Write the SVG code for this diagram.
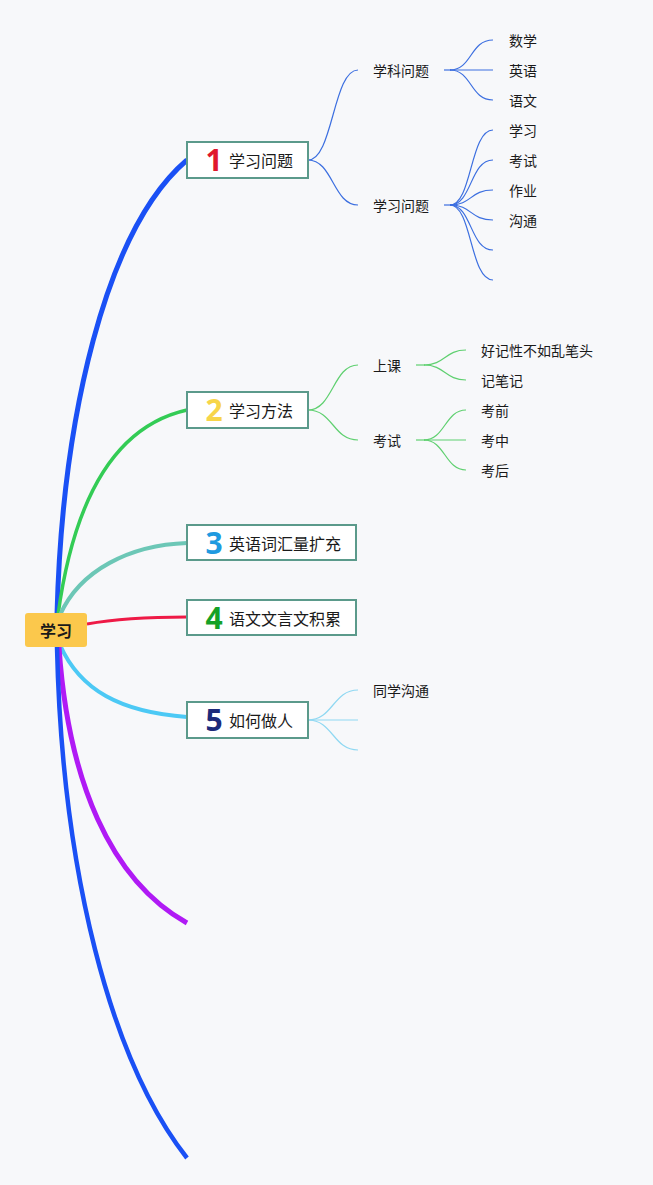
<svg xmlns="http://www.w3.org/2000/svg" width="653" height="1185" viewBox="0 0 653 1185">
<style>
.t{font-family:"Noto Sans CJK SC","Noto Sans",sans-serif;fill:#1a1a1a;dominant-baseline:central}
.main{font-size:16px}
.sub{font-size:14px}
.num{font-family:"Noto Sans","Liberation Sans",sans-serif;font-weight:700;font-size:30px;text-anchor:middle}
.box{fill:#ffffff;stroke:#5b9a8b;stroke-width:2}
.br{fill:none;stroke-linecap:butt}
.l1{fill:none;stroke:#3c6fe0;stroke-width:1.2}
.l2{fill:none;stroke:#5fd070;stroke-width:1.2}
.l5{fill:none;stroke:#8fd8f2;stroke-width:1.2}
</style>
<rect x="0" y="0" width="653" height="1185" fill="#f7f8fa"/>
<g id="connectors">
  <path class="br" d="M57,615 C62,420 105,230 187,160" stroke="#1a50f5" stroke-width="5"/>
  <path class="br" d="M58,615 C75,490 120,425 187,410" stroke="#33cc55" stroke-width="3.5"/>
  <path class="br" d="M60,615 C80,570 130,545 187,543" stroke="#6cc7b6" stroke-width="4"/>
  <path class="br" d="M87,624 C120,618 150,617 187,617" stroke="#ee1a46" stroke-width="3"/>
  <path class="br" d="M60,645 C80,690 120,712 187,717" stroke="#4cc9f5" stroke-width="4"/>
  <path class="br" d="M59,647 C68,780 110,880 187,923" stroke="#b01af5" stroke-width="5"/>
  <path class="br" d="M57,647 C62,870 110,1060 187,1158" stroke="#1a50f5" stroke-width="4.5"/>
  <path class="l1" d="M308,160 C333,160 333,70 358,70"/>
  <path class="l1" d="M308,160 C333,160 333,205 358,205"/>
  <path class="l1" d="M444,70 L451,70" stroke-width="2.5"/>
  <path class="l1" d="M450,70 C472,70 470,40 493,40"/>
  <path class="l1" d="M450,70 L493,70" stroke-width="2"/>
  <path class="l1" d="M450,70 C472,70 470,100 493,100"/>
  <path class="l1" d="M444,205 L451,205" stroke-width="2.5"/>
  <path class="l1" d="M450,205 C472,205 470,130 493,130"/>
  <path class="l1" d="M450,205 C472,205 470,160 493,160"/>
  <path class="l1" d="M450,205 C472,205 470,190 493,190"/>
  <path class="l1" d="M450,205 C472,205 470,220 493,220"/>
  <path class="l1" d="M450,205 C472,205 470,250 493,250"/>
  <path class="l1" d="M450,205 C472,205 470,280 493,280"/>
  <path class="l2" d="M308,410 C333,410 333,365 358,365"/>
  <path class="l2" d="M308,410 C333,410 333,440 358,440"/>
  <path class="l2" d="M416,365 L425,365" stroke-width="2"/>
  <path class="l2" d="M424,365 C445,365 445,350 466,350"/>
  <path class="l2" d="M424,365 C445,365 445,380 466,380"/>
  <path class="l2" d="M416,440 L425,440" stroke-width="2"/>
  <path class="l2" d="M424,440 C445,440 445,410 466,410"/>
  <path class="l2" d="M424,440 L466,440"/>
  <path class="l2" d="M424,440 C445,440 445,470 466,470"/>
  <path class="l5" d="M308,720 C333,720 333,690 358,690"/>
  <path class="l5" d="M308,720 L358,720"/>
  <path class="l5" d="M308,720 C333,720 333,750 358,750"/>
</g>
<g id="root">
  <rect x="25" y="613" width="62" height="34" rx="3" fill="#fbc84c"/>
  <text class="t" x="56" y="630" font-size="16" font-weight="700" text-anchor="middle">学习</text>
</g>
<g id="n1">
  <rect class="box" x="187" y="142" width="121" height="36"/>
  <text class="num" x="214" y="171" fill="#e0182d">1</text>
  <text class="t main" x="229" y="160">学习问题</text>
</g>
<g id="n2">
  <rect class="box" x="187" y="392" width="121" height="36"/>
  <text class="num" x="214" y="421" fill="#f7d54a">2</text>
  <text class="t main" x="229" y="410">学习方法</text>
</g>
<g id="n3">
  <rect class="box" x="187" y="525" width="169" height="35"/>
  <text class="num" x="214" y="553.5" fill="#1f9ae0">3</text>
  <text class="t main" x="229" y="542.5">英语词汇量扩充</text>
</g>
<g id="n4">
  <rect class="box" x="187" y="600" width="169" height="35"/>
  <text class="num" x="214" y="628.5" fill="#15a127">4</text>
  <text class="t main" x="229" y="617.5">语文文言文积累</text>
</g>
<g id="n5">
  <rect class="box" x="187" y="702" width="121" height="36"/>
  <text class="num" x="214" y="731" fill="#1c2a7a">5</text>
  <text class="t main" x="229" y="720">如何做人</text>
</g>
<g id="s1a"><text class="t sub" x="373" y="70">学科问题</text></g>
<g id="s1b"><text class="t sub" x="373" y="205">学习问题</text></g>
<g id="l1a"><text class="t sub" x="509" y="40">数学</text></g>
<g id="l1b"><text class="t sub" x="509" y="70">英语</text></g>
<g id="l1c"><text class="t sub" x="509" y="100">语文</text></g>
<g id="l1d"><text class="t sub" x="509" y="130">学习</text></g>
<g id="l1e"><text class="t sub" x="509" y="160">考试</text></g>
<g id="l1f"><text class="t sub" x="509" y="190">作业</text></g>
<g id="l1g"><text class="t sub" x="509" y="220">沟通</text></g>
<g id="s2a"><text class="t sub" x="373" y="365">上课</text></g>
<g id="s2b"><text class="t sub" x="373" y="440">考试</text></g>
<g id="l2a"><text class="t sub" x="481" y="350">好记性不如乱笔头</text></g>
<g id="l2b"><text class="t sub" x="481" y="380">记笔记</text></g>
<g id="l2c"><text class="t sub" x="481" y="410">考前</text></g>
<g id="l2d"><text class="t sub" x="481" y="440">考中</text></g>
<g id="l2e"><text class="t sub" x="481" y="470">考后</text></g>
<g id="s5a"><text class="t sub" x="373" y="690">同学沟通</text></g>
</svg>
